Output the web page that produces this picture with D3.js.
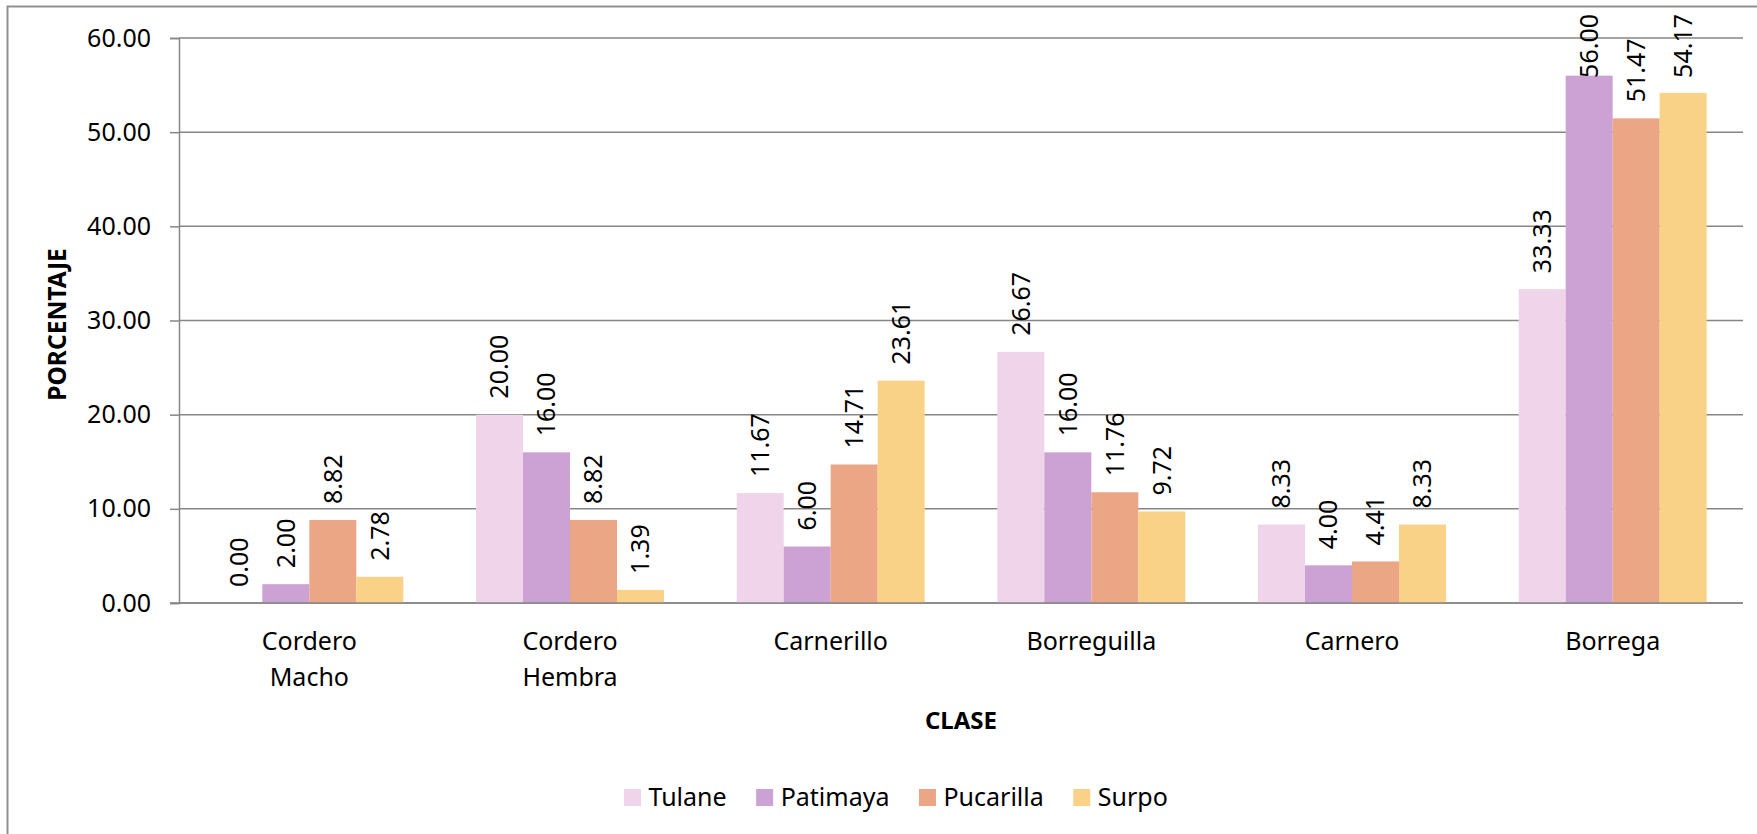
<!DOCTYPE html>
<html>
<head>
<meta charset="utf-8">
<script src="https://cdn.jsdelivr.net/npm/d3@7"></script>
<style>
  html, body { margin: 0; padding: 0; background: #ffffff; }
  svg { display: block; }
  text { font-family: "Noto Sans", "Open Sans", sans-serif; fill: #000; }
</style>
</head>
<body>
<svg id="chart" width="1757" height="834"></svg>
<script>
const categories = [["Cordero", "Macho"], ["Cordero", "Hembra"], ["Carnerillo"], ["Borreguilla"], ["Carnero"], ["Borrega"]];
const seriesNames = ["Tulane", "Patimaya", "Pucarilla", "Surpo"];
const tulane    = [0.00, 20.00, 11.67, 26.67, 8.33, 33.33];
const patimaya  = [2.00, 16.00, 6.00, 16.00, 4.00, 56.00];
const pucarilla = [8.82, 8.82, 14.71, 11.76, 4.41, 51.47];
const surpo     = [2.78, 1.39, 23.61, 9.72, 8.33, 54.17];
const colors    = ["#F0D5EA", "#CCA2D4", "#EAA685", "#F9D187"];
const yTicks    = [0, 10, 20, 30, 40, 50, 60];
const yTitle = "PORCENTAJE";
const xTitle = "CLASE";

const seriesValues = [tulane, patimaya, pucarilla, surpo];
const catKeys = categories.map(c => c.join(" "));

const svg = d3.select("#chart");
const W = 1757, H = 834;
const plot = { left: 179, right: 1743, top: 38, bottom: 603 };

// outer chart border (only left and top visible in the reference)
svg.append("rect")
  .attr("x", 7.5).attr("y", 6.5)
  .attr("width", W + 40).attr("height", H + 40)
  .attr("fill", "#fff").attr("stroke", "#8f8f8f").attr("stroke-width", 2);

const y = d3.scaleLinear().domain([0, 60]).range([plot.bottom, plot.top]);
const x0 = d3.scaleBand().domain(catKeys).range([plot.left, plot.right]).paddingInner(0).paddingOuter(0);
const bw = x0.bandwidth();
const gap = bw * (1.547 / 5.547) / 2;
const x1 = d3.scaleBand().domain(seriesNames).range([gap, bw - gap]).padding(0);

// gridlines
svg.append("g")
  .selectAll("line")
  .data(yTicks)
  .join("line")
  .attr("x1", plot.left).attr("x2", plot.right)
  .attr("y1", d => y(d)).attr("y2", d => y(d))
  .attr("stroke", "#868686").attr("stroke-width", 1.5);

// y axis
const yAxis = svg.append("g")
  .attr("transform", `translate(${plot.left},0)`)
  .call(d3.axisLeft(y).tickValues(yTicks).tickFormat(d3.format(".2f")).tickSize(9).tickPadding(19));
yAxis.select(".domain").attr("stroke", "#868686").attr("stroke-width", 1.5);
yAxis.selectAll(".tick line").attr("stroke", "#868686").attr("stroke-width", 1.5);
yAxis.selectAll(".tick text").style("font-size", "25px").style("font-family", "'Noto Sans', sans-serif").attr("fill", "#000");

// bars
const groups = svg.append("g").selectAll("g")
  .data(catKeys)
  .join("g")
  .attr("transform", d => `translate(${x0(d)},0)`);

groups.selectAll("rect")
  .data((d, i) => seriesNames.map((s, j) => ({ s, v: seriesValues[j][i], c: colors[j] })))
  .join("rect")
  .attr("x", d => x1(d.s))
  .attr("width", x1.bandwidth())
  .attr("y", d => y(d.v))
  .attr("height", d => y(0) - y(d.v))
  .attr("fill", d => d.c);

// baseline redraw
svg.append("line")
  .attr("x1", plot.left - 9).attr("x2", plot.right)
  .attr("y1", y(0)).attr("y2", y(0))
  .attr("stroke", "#868686").attr("stroke-width", 1.5);

// data labels
const labels = groups.selectAll("text.lbl")
  .data((d, i) => seriesNames.map((s, j) => ({ s, v: seriesValues[j][i] })))
  .join("text")
  .attr("class", "lbl")
  .style("font-size", "25px")
  .attr("text-anchor", "start")
  .attr("dy", "0.35em")
  .text(d => d3.format(".2f")(d.v));
labels.each(function(d) {
  const len = this.getComputedTextLength();
  const cx = x1(d.s) + x1.bandwidth() / 2;
  const yStart = Math.max(y(d.v) - 16, 14 + len);
  d3.select(this).attr("transform", `translate(${cx},${yStart}) rotate(-90)`);
});

// category labels
const catG = svg.append("g");
categories.forEach((lines, i) => {
  const t = catG.append("text")
    .attr("x", x0(catKeys[i]) + bw / 2)
    .attr("y", 650)
    .attr("text-anchor", "middle")
    .style("font-size", "25px");
  lines.forEach((ln, k) => {
    t.append("tspan").attr("x", x0(catKeys[i]) + bw / 2).attr("y", 650 + k * 36).text(ln);
  });
});

// axis titles
svg.append("text")
  .attr("transform", `translate(66,${(plot.top + plot.bottom) / 2 + 4}) rotate(-90)`)
  .attr("text-anchor", "middle")
  .style("font-size", "24.5px").style("font-weight", "bold")
  .text(yTitle);

svg.append("text")
  .attr("x", (plot.left + plot.right) / 2)
  .attr("y", 729)
  .attr("text-anchor", "middle")
  .style("font-size", "24px").style("font-weight", "bold")
  .text(xTitle);

// legend
const legend = svg.append("g");
let lx = 624;
seriesNames.forEach((s, j) => {
  legend.append("rect")
    .attr("x", lx).attr("y", 789)
    .attr("width", 17).attr("height", 17)
    .attr("fill", colors[j]);
  const t = legend.append("text")
    .attr("x", lx + 17 + 7.5).attr("y", 797.5)
    .attr("dy", "0.35em")
    .style("font-size", "25px")
    .text(s);
  lx = lx + 17 + 7.5 + t.node().getComputedTextLength() + 29.5;
});
</script>
</body>
</html>
